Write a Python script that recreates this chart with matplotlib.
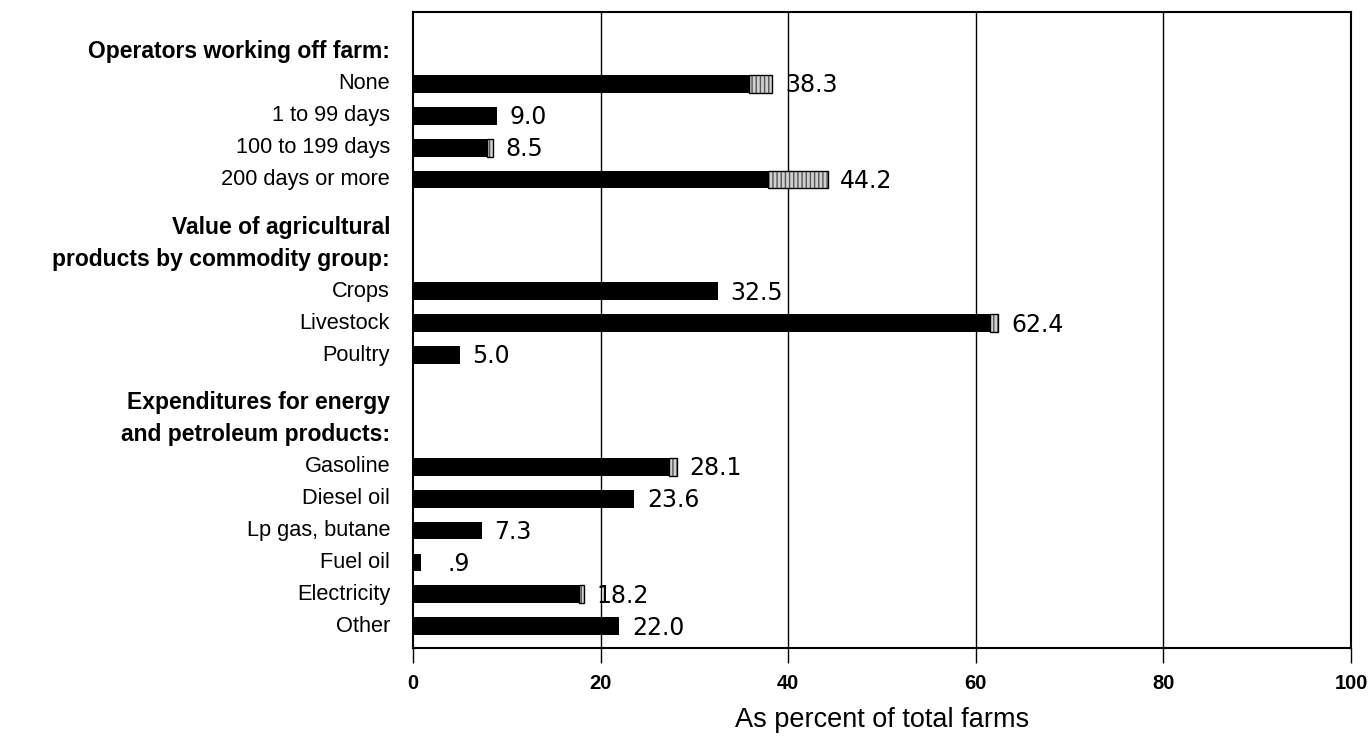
import matplotlib
matplotlib.use("Agg")
import matplotlib.pyplot as plt
from matplotlib.transforms import blended_transform_factory, offset_copy

# Data
groups = ["Operators working off farm:",
          "Value of agricultural\nproducts by commodity group:",
          "Expenditures for energy\nand petroleum products:"]
categories = [
    ["None", "1 to 99 days", "100 to 199 days", "200 days or more"],
    ["Crops", "Livestock", "Poultry"],
    ["Gasoline", "Diesel oil", "Lp gas, butane", "Fuel oil", "Electricity", "Other"],
]
totals = [
    [38.3, 9.0, 8.5, 44.2],
    [32.5, 62.4, 5.0],
    [28.1, 23.6, 7.3, 0.9, 18.2, 22.0],
]
# stippled end part of each bar
stippled = [
    [2.5, 0.0, 0.6, 6.4],
    [0.0, 0.9, 0.0],
    [0.8, 0.0, 0.0, 0.0, 0.5, 0.0],
]

fig = plt.figure(figsize=(13.7, 7.37), dpi=100)
ax = fig.add_axes([0.3015, 0.1208, 0.6847, 0.8629])

label_font = ["Liberation Sans", "DejaVu Sans"]
narrow_font = ["Liberation Sans Narrow", "Liberation Sans", "DejaVu Sans"]

ylab = blended_transform_factory(ax.transAxes, ax.transData)
ylab = offset_copy(ylab, fig=fig, x=-23, y=0, units="dots")

bar_h = 0.56
pos = 0.0
for g, (head, cats, tots, stp) in enumerate(zip(groups, categories, totals, stippled)):
    if g > 0:
        pos += 0.5
    for line in head.split("\n"):
        ax.text(0, pos, line, transform=ylab, ha="right", va="center",
                fontsize=16.5, fontweight="bold", family=label_font)
        pos += 1
    for cat, tot, s in zip(cats, tots, stp):
        black = tot - s
        ax.barh(pos, black, height=bar_h, color="black", zorder=3)
        if s > 0:
            ax.barh(pos, s, left=black, height=bar_h, color="#d0d0d0",
                    edgecolor="#555555", hatch="||||", linewidth=0, zorder=3)
            ax.barh(pos, s, left=black, height=bar_h, fill=False,
                    edgecolor="black", linewidth=1.0, zorder=4)
        ax.text(0, pos, cat, transform=ylab, ha="right", va="center",
                fontsize=15.7, family=label_font)
        txt = f"{tot:.1f}"
        dx = 9
        if tot < 1:
            txt = txt.lstrip("0")
            dx = 19
        ax.annotate(txt, (tot, pos), xytext=(dx, -1), textcoords="offset points",
                    ha="left", va="center", fontsize=17, family="DejaVu Sans",
                    zorder=5)
        pos += 1

ax.set_xlim(0, 100)
ax.set_ylim(18.68, -1.25)
ax.set_yticks([])
ax.set_xticks([0, 20, 40, 60, 80, 100])
ax.set_xticklabels(["0", "20", "40", "60", "80", "100"], fontsize=14.5,
                   fontweight="bold", family=narrow_font)
ax.tick_params(axis="x", direction="out", length=11, width=1.0, pad=8)
for x in [20, 40, 60, 80]:
    ax.axvline(x, color="black", linewidth=1.0, zorder=1)
for sp in ax.spines.values():
    sp.set_linewidth(1.5)
    sp.set_color("black")

ax.set_xlabel("As percent of total farms", fontsize=19.5, family=narrow_font,
              labelpad=10)

fig.savefig("out.png", dpi=100)
